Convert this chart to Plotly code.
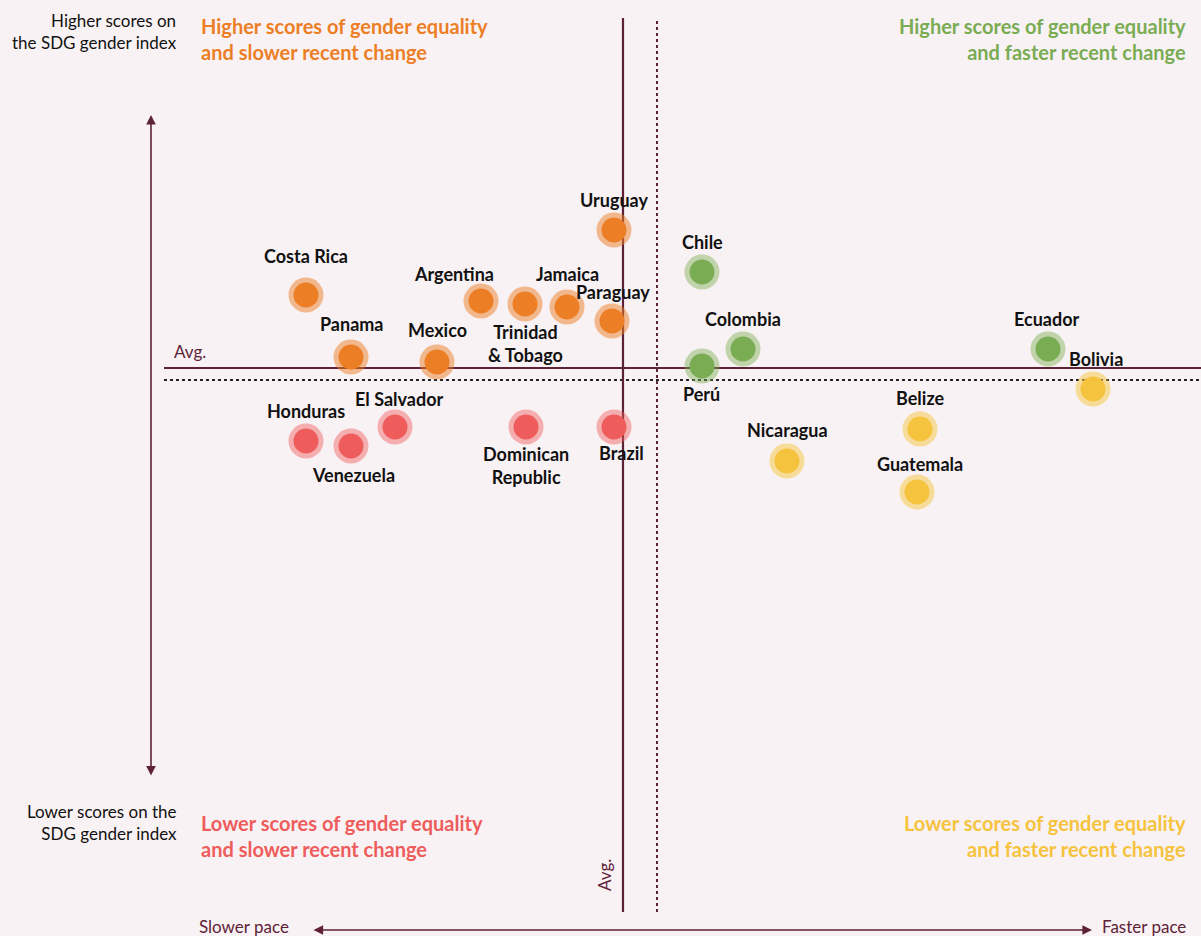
import plotly.graph_objects as go

# ---- data (x: pace of recent change relative to avg, y: SDG gender index relative to avg)
countries = ["Uruguay", "Chile", "Costa Rica", "Argentina", "Trinidad<br>& Tobago", "Jamaica",
             "Paraguay", "Colombia", "Ecuador", "Panama", "Mexico", "Perú", "Bolivia",
             "Honduras", "Venezuela", "El Salvador", "Dominican<br>Republic", "Brazil",
             "Belize", "Nicaragua", "Guatemala"]
pace = [-0.9, 7.9, -31.7, -14.2, -9.8, -5.6, -1.1, 12.0, 42.5, -27.2, -18.6, 7.9, 47.0,
        -31.7, -27.2, -22.8, -9.7, -0.9, 29.7, 16.4, 29.4]
score = [13.8, 9.6, 7.3, 6.7, 6.4, 6.1, 4.7, 1.9, 1.9, 1.1, 0.6, 0.2, -2.1,
         -7.3, -7.8, -5.9, -5.9, -5.9, -6.1, -9.3, -12.4]
group = ["hs", "hf", "hs", "hs", "hs", "hs", "hs", "hf", "hf", "hs", "hs", "hf", "lf",
         "ls", "ls", "ls", "ls", "ls", "lf", "lf", "lf"]
avg_pace = 0.0
avg_score = 0.0
alt_pace = 3.4
alt_score = -1.2

# ---- styles
BG = "#F9F2F4"
DARK = "#5E2238"
colors = {"hs": "#EC7E25", "hf": "#79AC53", "ls": "#EE5C5C", "lf": "#F5C33E"}
halo = {"hs": "rgba(236,126,37,0.5)", "hf": "rgba(121,172,83,0.45)",
        "ls": "rgba(238,92,92,0.45)", "lf": "rgba(245,195,62,0.5)"}
label_off = [(0, 30), (0, 30), (0, 39), (-27, 27), (0, -39), (0, 33), (1, 29), (0, 30), (-2, 30),
             (1, 33), (0, 32), (-1, -28), (3, 30), (0, 30), (2, -29), (4, 28), (0, -38), (7, -26),
             (0, 31), (0, 31), (3, 28)]

XR = [-62.3, 57.8]
YR = [-56.8, 36.8]

fig = go.Figure()

# reference lines
fig.add_shape(type="line", x0=-45.9, x1=XR[1], y0=avg_score, y1=avg_score,
              line=dict(color=DARK, width=2.2), layer="below")
fig.add_shape(type="line", x0=-45.9, x1=XR[1], y0=alt_score, y1=alt_score,
              line=dict(color="#222", width=2, dash="dot"), layer="below")
fig.add_shape(type="line", x0=avg_pace, x1=avg_pace, y0=-54.4, y1=35.0,
              line=dict(color=DARK, width=2.2), layer="below")
fig.add_shape(type="line", x0=alt_pace, x1=alt_pace, y0=-54.4, y1=35.0,
              line=dict(color=DARK, width=2, dash="dot"), layer="below")

for g in ["hs", "hf", "ls", "lf"]:
    idx = [i for i, gg in enumerate(group) if gg == g]
    fig.add_trace(go.Scatter(x=[pace[i] for i in idx], y=[score[i] for i in idx], mode="markers",
                             marker=dict(size=35, color=halo[g], line=dict(width=0)),
                             hoverinfo="skip", showlegend=False))
    fig.add_trace(go.Scatter(x=[pace[i] for i in idx], y=[score[i] for i in idx], mode="markers",
                             marker=dict(size=25, color=colors[g], line=dict(width=0)),
                             text=[countries[i] for i in idx], showlegend=False))

FONT = "Lato"
for i, c in enumerate(countries):
    dx, dy = label_off[i]
    fig.add_annotation(x=pace[i], y=score[i], text="<b>" + c + "</b>", showarrow=False,
                       xshift=dx, yshift=dy, font=dict(family=FONT, size=18, color="#111"),
                       align="center")

# axis arrows
fig.add_annotation(x=-47.2, y=25.3, ax=-47.2, ay=-40.9, xref="x", yref="y", axref="x", ayref="y",
                   showarrow=True, arrowhead=2, arrowside="end+start", arrowsize=1.2, arrowwidth=1.6,
                   arrowcolor=DARK, text="")
fig.add_annotation(x=46.9, y=-56.2, ax=-31.1, ay=-56.2, xref="x", yref="y", axref="x", ayref="y",
                   showarrow=True, arrowhead=2, arrowside="end+start", arrowsize=1.2, arrowwidth=1.6,
                   arrowcolor=DARK, text="")

# texts
def txt(x, y, s, color, size, anchor, bold=False, **kw):
    fig.add_annotation(xref="paper", yref="paper", x=x / 1201, y=1 - y / 936, text=("<b>%s</b>" % s) if bold else s,
                       showarrow=False, xanchor=anchor, yanchor="middle", align=anchor if anchor != "center" else "center",
                       font=dict(family=FONT, size=size, color=color), **kw)

txt(179, 32, "Higher scores on<br>the SDG gender index", "#111", 17, "right")
txt(179, 822, "Lower scores on the<br>SDG gender index", "#111", 17, "right")
txt(199, 39, "Higher scores of gender equality<br>and slower recent change", colors["hs"], 20, "left", True)
txt(1188, 39, "Higher scores of gender equality<br>and faster recent change", colors["hf"], 20, "right", True)
txt(199, 836, "Lower scores of gender equality<br>and slower recent change", colors["ls"], 20, "left", True)
txt(1188, 836, "Lower scores of gender equality<br>and faster recent change", colors["lf"], 20, "right", True)
txt(197, 926, "Slower pace", DARK, 17, "left")
txt(1188, 926, "Faster pace", DARK, 17, "right")
txt(172, 351, "Avg.", DARK, 17, "left")
fig.add_annotation(xref="paper", yref="paper", x=604 / 1201, y=1 - 893 / 936, text="Avg.", textangle=-90,
                   showarrow=False, font=dict(family=FONT, size=17, color=DARK))

fig.update_layout(width=1201, height=936, margin=dict(l=0, r=0, t=0, b=0),
                  paper_bgcolor=BG, plot_bgcolor=BG,
                  xaxis=dict(range=XR, visible=False, fixedrange=True),
                  yaxis=dict(range=YR, visible=False, fixedrange=True),
                  showlegend=False)

fig.write_html("out.html", config={"displayModeBar": False},
               post_script="document.body.style.margin='0';document.body.style.overflow='hidden';document.body.style.background='%s';" % BG)
